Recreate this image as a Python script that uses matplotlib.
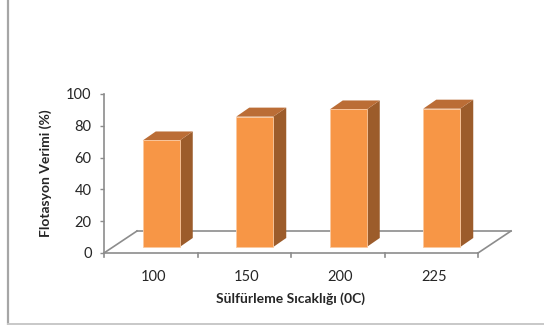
import matplotlib

matplotlib.use("Agg")
import matplotlib.pyplot as plt
from matplotlib.lines import Line2D
from matplotlib.patches import Polygon
import numpy as np

plt.rcParams["font.family"] = ["Lato", "DejaVu Sans"]

temperatures = ["100", "150", "200", "225"]
flotation_yield = [67, 82, 86.5, 87]

y_ticks = [0, 20, 40, 60, 80, 100]

FRONT = "#f79646"
TOP = "#bb6d36"
SIDE = "#9c5c2b"
AXIS_GREY = "#8c8c8c"
TEXT = "#262626"

W, H = 544, 325
fig = plt.figure(figsize=(W / 100, H / 100), dpi=100)

# plot area in pixels: y axis at x=104, x axis at y=253, 100% at y=94
left_px, right_px, base_px, top_px = 104, 478, 253, 94
ax = fig.add_axes([
    left_px / W,
    (H - base_px) / H,
    (right_px - left_px) / W,
    (base_px - top_px) / H,
])

n = len(temperatures)
ax.set_xlim(-0.5, n - 0.5)
ax.set_ylim(0, 100)

px_x = (n) / (right_px - left_px)        # data units per pixel, x
px_y = 100 / (base_px - top_px)          # data units per pixel, y

# floor depth
floor_dx, floor_dy = 33 * px_x, 22 * px_y
x0, x1 = -0.5, n - 0.5
ax.plot([x0, x1], [0, 0], color=AXIS_GREY, lw=1.2, clip_on=False, zorder=1)
ax.plot([x0 + floor_dx, x1 + floor_dx], [floor_dy, floor_dy],
        color=AXIS_GREY, lw=1.2, clip_on=False, zorder=1)
ax.plot([x0, x0 + floor_dx], [0, floor_dy], color=AXIS_GREY, lw=1.2,
        clip_on=False, zorder=1)
ax.plot([x1, x1 + floor_dx], [0, floor_dy], color=AXIS_GREY, lw=1.2,
        clip_on=False, zorder=1)

# category ticks on the front floor edge
for b in np.arange(x0, x1 + 0.01, 1.0):
    ax.plot([b, b], [0, -3.5 * px_y], color=AXIS_GREY, lw=1.2, clip_on=False)

# 3D bars
xpos = np.arange(n)
bar_shift_x = 10.5 * px_x
bar_lift = 6 * px_y
bar_w = 37 * px_x
side_dx, side_dy = 13 * px_x, 9 * px_y

ax.bar(xpos + bar_shift_x, flotation_yield, width=bar_w, bottom=bar_lift,
       color=FRONT, edgecolor="#fbc9a0", linewidth=0.6, zorder=3)

for xc, v in zip(xpos + bar_shift_x, flotation_yield):
    l, r = xc - bar_w / 2, xc + bar_w / 2
    b, t = bar_lift, bar_lift + v
    ax.add_patch(Polygon([(r, b), (r + side_dx, b + side_dy),
                          (r + side_dx, t + side_dy), (r, t)],
                         closed=True, facecolor=SIDE, edgecolor="none",
                         zorder=2, clip_on=False))
    ax.add_patch(Polygon([(l, t), (r, t), (r + side_dx, t + side_dy),
                          (l + side_dx, t + side_dy)],
                         closed=True, facecolor=TOP, edgecolor="none",
                         zorder=2, clip_on=False))

for side in ["top", "right", "bottom"]:
    ax.spines[side].set_visible(False)
ax.spines["left"].set_color(AXIS_GREY)
ax.spines["left"].set_linewidth(1.2)

ax.set_yticks(y_ticks)
ax.tick_params(axis="y", length=3, width=1, color=AXIS_GREY, pad=6,
               labelsize=10.5, labelcolor=TEXT)
ax.set_xticks(xpos + 0.03)
ax.set_xticklabels(temperatures)
ax.tick_params(axis="x", length=0, pad=12, labelsize=10.5, labelcolor=TEXT)

ax.set_ylabel("Flotasyon Verimi (%)", fontsize=10, fontweight="bold",
              color=TEXT, labelpad=10)
ax.set_xlabel("Sülfürleme Sıcaklığı (0C)", fontsize=10, fontweight="bold",
              color=TEXT, labelpad=6)

# outer chart frame (left and bottom edges)
fig.add_artist(Line2D([7.5 / W, 7.5 / W], [0, 1], transform=fig.transFigure,
                      color="#a6a6a6", lw=1.6))
fig.add_artist(Line2D([7.5 / W, 1], [1.5 / H, 1.5 / H],
                      transform=fig.transFigure, color="#c8c8c8", lw=1.4))

fig.savefig("out.png", dpi=100)
